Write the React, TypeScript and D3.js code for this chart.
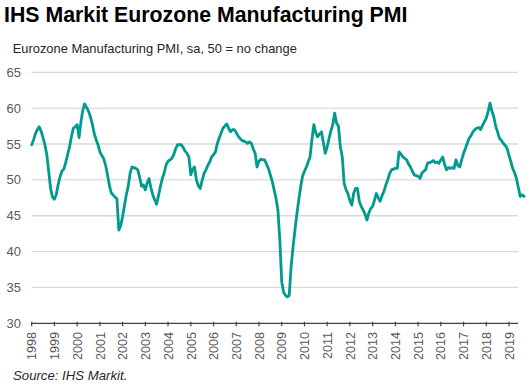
import React from "react";
import * as d3 from "d3";

const title = "IHS Markit Eurozone Manufacturing PMI";
const subtitle = "Eurozone Manufacturing PMI, sa, 50 = no change";
const source = "Source: IHS Markit.";

const startYear = 1998;
const yearTicks = d3.range(1998, 2020);
const yTicks = [30, 35, 40, 45, 50, 55, 60, 65];

// Monthly PMI readings starting Jan 1998
const pmi: number[] = [
  54.9, 55.6, 56.4, 57.0, 57.4, 56.8, 55.9, 54.9, 53.5, 51.2, 48.8, 47.6,
  47.3, 48.0, 49.3, 50.4, 51.2, 51.5, 52.4, 53.5, 54.6, 56.0, 57.2, 57.4,
  57.7, 55.9, 58.0, 59.7, 60.6, 60.1, 59.6, 58.8, 57.8, 56.5, 55.6, 54.9,
  53.9, 53.4, 53.0, 52.1, 50.8, 49.3, 48.2, 47.9, 47.6, 47.4, 43.0, 43.6,
  44.9, 46.5, 47.9, 49.1, 50.9, 51.8, 51.7, 51.6, 51.4, 50.4, 49.1, 49.3,
  48.6, 49.6, 50.2, 48.9, 47.9, 47.2, 46.6, 47.8, 49.1, 50.2, 51.0, 52.1,
  52.6, 52.8, 53.0, 53.5, 54.3, 54.9, 54.9, 54.9, 54.5, 54.0, 53.7, 53.2,
  50.7, 51.5, 51.8, 50.0, 49.2, 48.8, 49.9, 50.9, 51.4, 52.0, 52.5, 53.2,
  53.5, 53.9, 55.0, 55.8, 56.5, 57.2, 57.5, 57.8, 57.2, 56.7, 57.0, 57.0,
  56.6, 56.1, 55.8, 55.5, 55.4, 55.3, 55.1, 55.3, 55.1, 54.3, 53.7, 51.8,
  52.6, 52.9, 52.8, 52.8, 52.2, 51.6, 50.7, 49.8, 48.6, 47.4, 45.8, 41.6,
  35.8, 34.3, 33.9, 33.7, 33.9, 37.9, 40.6, 43.0, 45.2, 47.2, 49.0, 50.5,
  51.2, 51.8, 52.5, 53.2, 55.6, 57.7, 56.6, 56.0, 56.4, 56.7, 55.2, 53.7,
  54.6, 55.8, 56.8, 57.7, 59.3, 57.9, 57.5, 54.6, 53.2, 49.5, 48.6, 48.1,
  47.1, 46.5, 48.1, 48.8, 48.8, 47.0, 46.3, 45.8, 45.2, 44.4, 45.4, 46.0,
  46.3, 47.2, 48.1, 47.5, 47.0, 47.8, 48.4, 49.3, 50.0, 50.9, 51.4, 51.5,
  51.6, 51.6, 53.9, 53.6, 53.2, 53.0, 52.8, 52.2, 51.8, 51.2, 50.7, 50.6,
  50.5, 50.2, 50.9, 51.2, 51.4, 52.3, 52.4, 52.5, 52.7, 52.4, 52.5, 52.3,
  52.8, 53.2, 52.2, 51.4, 51.7, 51.6, 51.7, 51.6, 52.8, 52.0, 51.8, 52.8,
  53.7, 54.4, 55.1, 55.8, 56.2, 56.7, 57.0, 57.2, 57.3, 57.0, 57.6, 58.1,
  58.6, 59.6, 60.7, 59.6, 58.8, 57.5, 56.7, 55.8, 55.5, 55.1, 54.8, 54.4,
  53.4, 52.5, 51.6, 51.0, 50.2, 48.9, 47.7, 47.9, 47.7,
];

const W = 529;
const H = 387;
const left = 31.7;
const xAt2019 = 509;
const plotRight = 518;
const yTop = 72.3;
const yBottom = 323.3;

export default function App() {
  const x = d3
    .scaleTime()
    .domain([new Date(1998, 0, 1), new Date(2019, 0, 1)])
    .range([left, xAt2019]);
  const y = d3.scaleLinear().domain([30, 65]).range([yBottom, yTop]);

  const data = pmi.map((v, i) => ({ date: new Date(startYear, i, 1), v }));
  const line = d3
    .line<{ date: Date; v: number }>()
    .x((d) => x(d.date))
    .y((d) => y(d.v))
    .curve(d3.curveLinear);

  const font = "'Liberation Sans', Arial, sans-serif";

  return (
    <svg
      width={W}
      height={H}
      style={{ position: "absolute", left: 0, top: 0, background: "#fff" }}
      fontFamily={font}
    >
      <rect x={0} y={0} width={W} height={H} fill="#fff" />
      <text x={4} y={22} fontSize={21.3} fontWeight="bold" fill="#000">
        {title}
      </text>
      <text x={12.7} y={53} fontSize={12.9} fill="#262626">
        {subtitle}
      </text>

      {yTicks.map((t) => (
        <g key={t}>
          {t !== 30 && (
            <line
              x1={left}
              x2={plotRight}
              y1={y(t)}
              y2={y(t)}
              stroke="#d9d9d9"
              strokeWidth={1.3}
            />
          )}
          <text
            x={21}
            y={y(t)}
            dy="0.35em"
            textAnchor="end"
            fontSize={13}
            fill="#595959"
          >
            {t}
          </text>
        </g>
      ))}

      <line
        x1={left - 0.5}
        x2={plotRight}
        y1={yBottom}
        y2={yBottom}
        stroke="#404040"
        strokeWidth={1.2}
      />
      {yearTicks.map((yr) => {
        const xx = x(new Date(yr, 0, 1));
        return (
          <g key={yr}>
            <line
              x1={xx}
              x2={xx}
              y1={yBottom - 1.5}
              y2={yBottom + 3}
              stroke="#404040"
              strokeWidth={1.2}
            />
            <text
              transform={`translate(${xx + 4.7},${332}) rotate(-90)`}
              textAnchor="end"
              fontSize={12.6}
              fill="#595959"
            >
              {yr}
            </text>
          </g>
        );
      })}

      <path
        d={line(data) || ""}
        fill="none"
        stroke="#009a8e"
        strokeWidth={2.8}
        strokeLinejoin="round"
        strokeLinecap="round"
      />

      <text
        x={13}
        y={380}
        fontSize={13.2}
        fontStyle="italic"
        fill="#262626"
      >
        {source}
      </text>
    </svg>
  );
}
